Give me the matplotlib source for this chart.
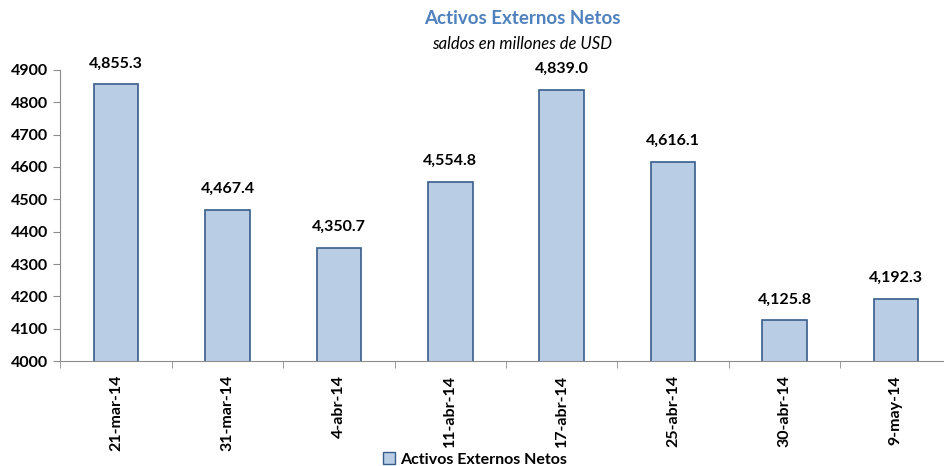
import matplotlib.pyplot as plt
from matplotlib.patches import Patch

fechas = ["21-mar-14", "31-mar-14", "4-abr-14", "11-abr-14",
          "17-abr-14", "25-abr-14", "30-abr-14", "9-may-14"]
saldos = [4855.3, 4467.4, 4350.7, 4554.8, 4839.0, 4616.1, 4125.8, 4192.3]
y_ticks = list(range(4000, 4901, 100))

plt.rcParams['font.family'] = ['Lato', 'DejaVu Sans']
relleno = '#B9CDE5'
borde = '#385D8A'
gris = '#8C8C8C'

fig = plt.figure(figsize=(9.44, 4.66), dpi=100)
ax = fig.add_axes([0.064, 0.2253, 0.944, 0.6245])

x = list(range(len(fechas)))
ax.bar(x, saldos, width=0.4, bottom=0, color=relleno, edgecolor=borde, linewidth=1.2)
ax.set_ylim(4000, 4900)
ax.set_xlim(-0.5, len(fechas) - 0.5)

for xi, v in zip(x, saldos):
    ax.text(xi, v + 42, f"{v:,.1f}", ha='center', va='bottom',
            fontsize=11.5, fontweight='bold', clip_on=False)

ax.set_yticks(y_ticks)
ax.set_yticklabels([str(t) for t in y_ticks], fontsize=11.5, fontweight='bold')
ax.set_xticks(x)
ax.set_xticklabels(fechas, rotation=90, fontsize=11.5, fontweight='bold')
ax.tick_params(axis='x', length=0, pad=10)
ax.set_xticks([i - 0.5 for i in range(len(fechas) + 1)], minor=True)
ax.tick_params(axis='x', which='minor', length=5, color=gris, direction='out')
ax.tick_params(axis='y', length=5, color=gris, direction='out', pad=4)

for lado in ['top', 'right']:
    ax.spines[lado].set_visible(False)
for lado in ['left', 'bottom']:
    ax.spines[lado].set_color(gris)

fig.text(0.553, 0.96, "Activos Externos Netos", ha='center', va='center',
         fontsize=13.5, fontweight='bold', color='#4F81BD')
fig.text(0.553, 0.905, "saldos en millones de USD", ha='center', va='center',
         fontsize=12, style='italic')

leyenda = [Patch(facecolor=relleno, edgecolor=borde, label="Activos Externos Netos")]
fig.legend(handles=leyenda, loc='center', bbox_to_anchor=(0.503, 0.014),
           frameon=False, prop={'weight': 'bold', 'size': 11.5},
           handlelength=0.8, handleheight=0.8, handletextpad=0.3)

fig.savefig("out.png", dpi=100)
